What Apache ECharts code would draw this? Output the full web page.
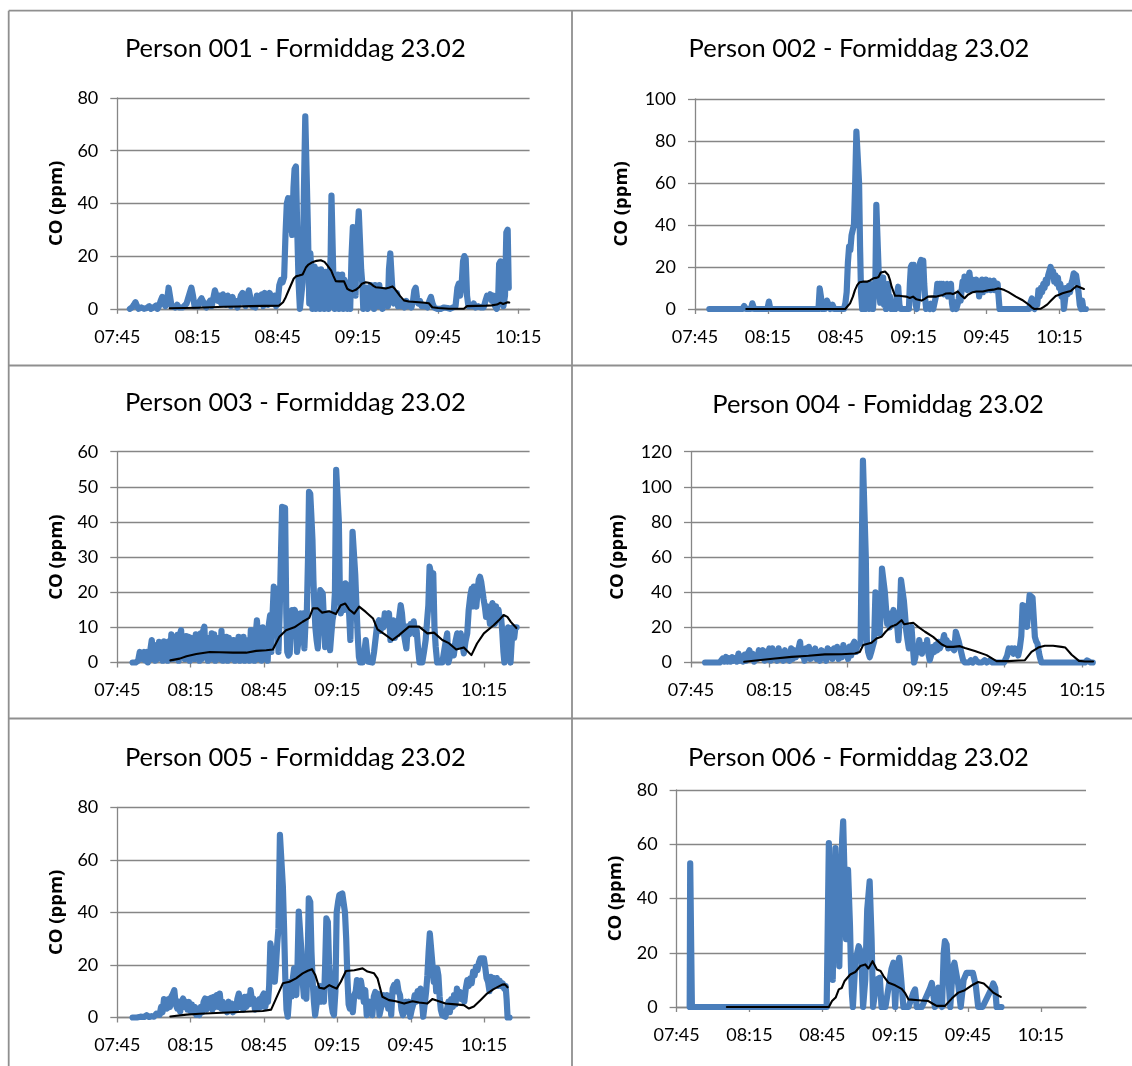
<!DOCTYPE html>
<html>
<head>
<meta charset="utf-8">
<title>CO-eksponering formiddag 23.02</title>
<script src="https://cdn.jsdelivr.net/npm/echarts@6/dist/echarts.min.js"></script>
<style>
  html, body { margin: 0; padding: 0; background: #ffffff; }
  #chart { width: 1132px; height: 1066px; }
</style>
</head>
<body>
<div id="chart"></div>
<script>
// Time is stored as minutes after 07:45; CO is in ppm.
const tickMinutes = [0, 30, 60, 90, 120, 150];
const tickLabels = ['07:45', '08:15', '08:45', '09:15', '09:45', '10:15'];

const titles = [
  'Person 001 - Formiddag 23.02',
  'Person 002 - Formiddag 23.02',
  'Person 003 - Formiddag 23.02',
  'Person 004 - Fomiddag 23.02',
  'Person 005 - Formiddag 23.02',
  'Person 006 - Formiddag 23.02'
];
const yAxisName = 'CO (ppm)';
const yAxisMax = [80, 100, 60, 120, 80, 80];
const yAxisStep = [20, 20, 10, 20, 20, 20];
const xAxisEnd = [154.2, 168.6, 168.6, 154.2, 168.6, 168.6];

// Person 001: measured CO and running average
const p001Co = [[4.7,0],[5.5,0.5],[6.2,1.5],[6.8,2.5],[7.4,1],[8,0],[9,0.5],[10,0],[11,0.3],[12,1],[12.6,0],[13.5,0.5],[14.5,1.2],[15,0],
[15.6,1],[16.2,3],[16.8,4.5],[17.4,2],[18,1],[18.6,3],[19.2,8],[19.8,8.5],[20.3,1],[21,1.5],[21.7,0.5],[22.4,1.5],[23.1,0.5],[23.8,1],[24.5,0.5],[25.2,1],[25.9,2],[26.5,4],[27.1,6],[27.7,8],[28.3,5],[28.9,1],[29.5,2],[30.2,1],[30.9,3],[31.5,4],[32.1,4.5],[32.7,1.5],[33.3,0.5],[34,2],[34.7,3],[35.3,1],[35.9,4],[36.5,7],[37.1,6.5],[37.7,3],[38.3,5],[38.9,2],[39.5,5.5],[40.1,4],[40.7,1.5],[41.3,5],[41.9,4],[42.5,1],[43.1,4.5],[43.7,2],[44.3,3],[44.9,0.5],[45.5,2],[46.2,5],[46.8,6],[47.4,3],[48,1],[48.6,5],[49.2,7],[49.8,6.5],[50.4,1],[51,1.5],[51.6,0.5],[52.2,5],[52.8,5.5],[53.4,2],[54,5.5],[54.6,1],[55.2,6],[55.8,5],[56.4,1.5],[57,6],[57.6,5.5],[58.2,2],[58.8,5],[59.4,1],[60,2.5],[60.6,9],[61.2,11],[61.8,10],[62.4,12],
[62.9,28],[63.4,40],[63.9,42],[64.4,30],[64.9,42],[65.4,28],[65.9,46],[66.3,53],[66.8,54],[67.3,30],[67.8,10],[68.3,0],[68.8,0],[69.3,10],[69.8,45],[70.3,73],[70.8,73],[71.3,30],[71.8,2],
[72.2,21],[72.6,14],[73,0],[73.4,13],[73.8,16],[74.2,0],[74.6,15],[75,5],[75.4,14],[75.8,0],[76.2,15],[76.6,2],[77,13],[77.4,0],[77.8,14],[78.2,3],[78.6,13],[79,0],[79.4,12],[79.8,20],[80.1,43],[80.5,43],[80.9,8],[81.3,0],[81.7,13],[82.1,2],[82.5,13],[82.9,0],[83.3,12],[83.7,3],[84.1,13],[84.5,0],[84.9,11],[85.3,2],[85.7,10],[86.1,0],[86.6,5],[87.1,0],[87.6,20],[88.1,31],[88.6,31],[89.1,5],[89.5,25],[89.9,30],[90.3,37],[90.8,37],[91.2,15],[91.6,10],[92,0],[92.4,6],[92.8,2],[93.2,8],[93.6,0],[94,7],[94.4,1],[94.8,9],[95.2,2],[95.6,8],[96,0],[96.4,9],[96.8,3],[97.2,8],[97.6,1],[98,9],[98.4,3],[98.8,7],[99.2,0],[99.6,5],[100,7],[100.4,2],[100.8,5],[101.2,1],[101.6,15],[102.1,21],[102.6,21],[103,5],[103.4,2],[103.8,6],[104.2,3],[104.6,6],[105,1],[105.5,3],[106,1],[106.7,2],[107.4,0.5],[108.1,3],[108.7,1],[109.4,2],[110,0.5],[110.6,3],[111.1,7],[111.6,8],[112.1,4],[112.6,2],[113.2,3],[113.8,1],[114.5,0.5],[115.2,1],[116,0.5],[116.7,3],[117.3,4.5],[117.9,2],[118.5,0.5],[119.5,0],[121,0],[122.2,0.5],[122.8,1],[123.5,0.3],[124.5,0],[125.5,0.5],[126.5,1],[127.2,8],[127.7,9.5],[128.2,5],[128.7,8],[129.3,18],[129.8,20],[130.3,19],[130.8,5],[131.3,1],[131.9,0.5],[132.6,1],[133.3,2],[134,0.5],[135,1],[136,0.5],[137,0.5],[137.7,3],[138.3,5],[138.9,4],[139.5,5.5],[140.1,3],[140.7,5],[141.3,1],[141.9,0],[142.4,2],[142.8,17],[143.3,18],[143.8,5],[144.4,1],[145,5],[145.5,29],[146,30],[146.4,8]];
const p001Avg = [[19.6,0.2],[25,0.3],[30,0.4],[35,0.6],[40,0.8],[45,0.9],[50,1],[55,1.1],[60.5,1.2],[62,2.5],[63,4.4],[64.5,8],[66,11.5],[66.8,12.3],[68,12.6],[69.3,13],[70,14.5],[70.6,15.8],[71.5,16.8],[73,17.7],[74.5,18.2],[76.1,18.4],[77.5,17.8],[78.5,16.6],[80,14.5],[80.8,12.5],[81.7,10.5],[83,10.4],[84.8,10.4],[86,7.6],[87,7],[88,6.7],[89.2,7.2],[90.4,8.2],[91.5,9.5],[92.9,10.1],[94,9.9],[94.8,9.5],[95.8,8.7],[96.6,8.2],[98.5,8],[100.4,7.7],[101.5,8],[102.9,8.5],[103.8,7.6],[104.7,6.3],[105.8,4.8],[107.2,3.2],[109,2.8],[112.8,2.5],[115,2.3],[116.5,2.1],[117.8,0.6],[120,0.3],[124,0],[129.6,0],[130.8,1],[134,1.1],[138,1.2],[140,1.3],[142,1.6],[143.3,2.3],[144.3,1.8],[145,1.4],[146,2.5],[146.6,2.4]];

// Person 002
const p002Co = [[5.9,0],[19.5,0],[20.2,1.4],[21,0],[23,0],[23.6,2.7],[24.3,0],[29.8,0],[30.4,3.5],[31,0],[50.8,0],[51.3,9.8],[51.8,6],[52.3,0],[53.5,0],[54.3,4],[55,4.6],[55.7,0],[56.6,2],[57.3,0],[61.3,0],[61.9,3],[62.4,8],[62.9,22],[63.4,29.7],[63.9,28],[64.4,35],[64.9,37.6],[65.4,40],[65.9,60],[66.4,84.4],[67,84.4],[67.5,60],[67.9,30],[68.3,8],[68.8,0],[69.2,12],[69.6,5],[70,0],[70.4,11],[70.8,2],[71.2,12],[71.6,0],[72,12],[72.4,4],[72.8,11],[73.2,0],[73.7,8],[74.2,12],[74.6,49.5],[75.3,49],[75.8,10],[76.2,3],[76.6,15],[77,8],[77.4,15],[77.8,2],[78.2,11],[78.6,0],[79,9],[79.4,12],[79.8,2],[80.2,6],[80.7,0],[82.5,0],[83,6],[83.6,10.6],[84.1,2],[84.6,0],[88,0],[88.4,12],[88.8,20],[89.2,21],[89.6,13],[90,21],[90.4,8],[90.8,2],[91.2,0],[91.7,5],[92.2,15],[92.6,22],[93,23.3],[93.5,22],[93.9,23],[94.3,12],[94.7,5],[95.1,0],[95.6,0],[96.1,1],[96.6,0],[97,2.5],[97.5,1],[98,0],[98.8,0],[99.3,7],[99.7,12],[100.1,9],[100.5,12],[100.9,8],[101.3,12],[101.7,9],[102.1,12],[102.5,7],[102.9,11],[103.3,9],[103.7,12],[104.1,6],[104.5,11],[104.9,8],[105.3,12],[105.7,3],[106.1,0],[106.6,0],[107.1,3],[107.5,0],[108.1,2.5],[108.5,5],[108.9,8],[109.3,4],[109.7,9],[110.1,13],[110.5,10],[110.9,15.4],[111.3,12],[111.7,14],[112.1,9],[112.5,15],[112.9,17.3],[113.3,13],[113.7,9],[114.1,14],[114.5,10],[114.9,13],[115.3,9],[115.7,14],[116.1,11],[116.5,13],[116.9,6],[117.3,12],[117.7,10],[118.1,14],[118.5,8],[118.9,13],[119.3,10],[119.7,14],[120.1,9],[120.5,13],[120.9,11],[121.3,13.5],[121.7,9],[122.1,13],[122.5,11],[122.9,13.5],[123.3,9],[123.7,12],[124.1,10],[124.5,12],[124.9,6],[125.3,0],[130,0],[137.5,0],[138,3],[138.6,5],[139.2,1],[139.7,0],[140.3,4],[140.8,2],[141.3,9],[141.8,6],[142.3,10],[142.8,8],[143.3,12],[143.8,10],[144.3,14],[144.8,12],[145.3,16],[145.8,18],[146.3,20],[146.8,17],[147.3,18],[147.8,13],[148.3,16],[148.8,12],[149.3,15],[149.8,10],[150.3,12],[150.8,6],[151.3,10],[151.8,0],[152.3,5],[152.8,10],[153.3,7],[153.8,11],[154.3,8],[154.8,12],[155.3,14],[155.8,17],[156.3,17.7],[156.8,16],[157.3,12],[157.8,8],[158.3,2],[158.8,0],[159.3,4],[159.8,0],[160.8,0]];
const p002Avg = [[21.1,0],[30,0],[40,0],[50,0],[61.8,0],[62.5,0.8],[63.8,2.7],[65,6],[65.8,9],[66.8,11.5],[67.7,12.7],[69,13],[70.7,13],[72,13.6],[73.4,14.6],[74.5,14.8],[75.5,15.2],[76.4,17.3],[77.2,17.8],[78.2,17.8],[79,17],[79.5,16.2],[80.3,13.5],[80.9,10.6],[82.3,6.3],[84,6.3],[85.5,6.1],[87,5.9],[88.4,5.2],[89.7,5.9],[90.5,5.4],[91.1,4.6],[93.2,4],[94.5,4.8],[95.9,5.9],[97.5,6],[99.3,5.9],[102,6.7],[103.3,7.4],[104.1,7.8],[105,7.5],[106.1,7.1],[107,7.6],[108.2,8.3],[109.5,6.5],[110.9,5.1],[112.3,6.8],[113,7.3],[114.3,8],[115.7,8.3],[118.4,8.3],[121.1,9],[122.8,9.2],[124.6,9.8],[126,9.5],[127.3,9],[129,8],[130.5,7],[132,5.9],[134.6,4.3],[137.5,1.9],[138.5,0.8],[139.6,0],[142.3,0.2],[143.5,1],[145,2.2],[146.5,4],[148.4,6.2],[149.8,6.8],[151.2,7.5],[153,8.1],[154.6,8.6],[156,10],[157,10.9],[158,10.5],[159,10],[160,9.5]];

// Person 003
const p003Co = [[6.25,0],[7.5,0],[8.5,0.5],[9.2,3],[9.8,3.3],[10.4,1],[11,3],[11.5,0.5],[12,3],[12.5,0],[13,1],[13.6,4],[14.1,6.4],[14.6,1],[15.1,5],[15.6,0.5],[16.1,4],[16.6,1],[17.1,5.9],[17.6,2],[18.1,5],[18.6,0.5],[19.1,6],[19.6,2],[20.1,5.4],[20.6,0.5],[21.1,6],[21.6,1],[22.1,8],[22.6,8.3],[23.1,1],[23.6,7],[24.1,2],[24.6,7.9],[25.1,0.5],[25.6,8],[26.1,9.2],[26.6,2],[27.1,7],[27.6,1],[28.1,7.5],[28.6,2],[29.1,7.3],[29.6,0.5],[30.1,7],[30.6,2],[31.1,6.9],[31.6,1],[32.1,8],[32.6,2],[33.1,7.3],[33.6,0.5],[34.1,8.3],[34.6,1],[35.1,9],[35.6,10.2],[36.1,2],[36.6,7],[37.1,0.5],[37.6,6.4],[38.1,2],[38.6,8.3],[39.1,1],[39.6,8],[40.1,0.5],[40.6,6.4],[41.1,2],[41.6,7],[42.1,1],[42.6,9],[43.1,0.5],[43.6,6.4],[44.1,2],[44.6,7.3],[45.1,0.5],[45.6,7],[46.1,1],[46.6,6.4],[47.1,2],[47.6,6.4],[48.1,0.5],[48.6,5.4],[49.1,1],[49.6,7.3],[50.1,0.5],[50.6,6.4],[51.1,1],[51.6,7.3],[52.1,0.5],[52.6,6.4],[53.1,2],[53.6,6.4],[54.1,0.5],[54.6,9.2],[55.1,1],[55.6,4.4],[56.1,0.5],[56.6,8],[57.1,12],[57.5,12],[58,1],[58.5,2.6],[59,0.5],[59.5,10],[60,10.3],[60.5,1],[61,4.5],[61.5,0.5],[62,11],[62.5,13.5],[63,3],[63.5,14],[64,21.6],[64.5,20],[65,21],[65.4,14],[65.9,3],[66.4,14.1],[66.9,30],[67.4,44.3],[68,44.3],[68.6,44],[69.1,14.1],[69.5,3],[70,2],[70.5,2.6],[71,10],[71.5,14.9],[72,12],[72.5,15],[73,14],[73.5,3],[74,2.6],[74.5,8],[75,14],[75.5,12],[76,14],[76.5,4],[77,12],[77.5,14],[78,30],[78.4,48.6],[78.9,48],[79.3,42.5],[79.8,35],[80.2,23.5],[80.6,15.9],[81,10],[81.5,6.4],[82,4],[82.5,12],[83,20.6],[83.5,20.6],[84,19.7],[84.5,12],[85,4.4],[85.5,8],[86,14],[86.5,6],[87,3.5],[87.5,8],[88,12],[88.5,14],[89,20],[89.5,54.8],[90.2,54.3],[90.6,40],[91,20.6],[91.4,14],[91.8,16],[92.3,20.6],[92.8,15],[93.3,22.5],[93.8,22.5],[94.3,21.6],[94.8,14],[95.3,6.4],[95.8,20],[96.2,37.2],[96.8,36.7],[97.3,25],[97.8,15.9],[98.3,8],[98.8,1.6],[99.3,0],[100.3,0],[101,3],[101.6,6.4],[102.2,2],[102.7,0.2],[104.3,0],[105,3],[105.7,7.3],[106.3,11],[107,12],[107.6,9],[108.2,12],[108.8,10],[109.4,14],[110,11],[110.6,13],[111.1,14],[111.7,6.4],[112.3,8],[112.9,12],[113.5,7],[114.1,10.3],[114.7,8],[115.3,13],[115.9,16.3],[116.4,14],[117,9],[117.6,6.4],[118.2,4],[118.8,10.3],[119.4,8],[120,11],[120.6,9],[121.2,11.7],[121.8,8],[122.4,9.2],[123,4],[123.6,0],[124.7,0],[125.4,3],[126.1,6.4],[126.7,12],[127.2,16.3],[127.7,27.3],[128.2,27],[128.7,24],[129.2,25.4],[129.7,10],[130.2,4.5],[130.8,0],[132.9,0],[133.6,3],[134.3,6],[134.9,8.3],[135.4,0],[136.2,0],[137,4.5],[137.6,2],[138.3,6],[139,8.3],[139.6,5],[140.4,8.3],[141,6],[141.7,2.6],[142.4,6],[143.1,8.3],[143.7,15],[144.4,19.2],[144.9,21],[145.4,16],[145.8,21.6],[146.3,17],[146.8,15.9],[147.3,20],[147.8,23.5],[148.3,24.4],[148.8,23],[149.3,22.5],[149.8,18],[150.3,15.9],[150.8,13],[151.3,16],[151.9,14],[152.4,11],[152.9,15],[153.4,16.9],[153.9,14],[154.4,11],[154.9,16],[155.4,13],[155.9,15],[156.4,12],[156.9,13],[157.4,9],[157.9,3],[158.3,0],[158.8,5],[159.3,8],[159.8,10],[160.3,2],[160.8,0],[161.3,6],[161.8,10],[162.3,7],[162.8,10],[163.3,10]];
const p003Avg = [[21.7,0.6],[25.5,1.1],[28.3,1.8],[32.3,2.4],[37.8,3],[41.8,2.9],[47.3,2.8],[52.7,2.8],[56.8,3.3],[60.9,3.5],[63.6,3.7],[66.3,7.3],[69,9.2],[72.4,10],[75.8,11.6],[78.5,12.7],[80,15.4],[82,15.4],[83.7,14.2],[86.7,14.6],[89.4,13.8],[91.4,16.3],[93.2,16.8],[94.8,15.1],[96.9,13.9],[98.9,15.9],[101.6,14.4],[104.6,12.5],[106.4,9.4],[109.8,7.8],[112.5,6.4],[115.2,7.8],[119.3,10.2],[123.4,10.2],[126.8,8.3],[129.5,8.5],[132.9,6.4],[135.6,5.5],[138.6,3.7],[141.7,4.3],[144.8,2.1],[147.1,5.4],[149.9,8.3],[153.9,10.6],[156,12],[158,13.5],[159.5,13],[161,11.5],[163.2,9.8]];

// Person 004
const p004Co = [[5.4,0],[11,0],[11.6,1],[12.2,2.3],[12.8,0.5],[13.4,3.2],[14,0.5],[14.6,2.5],[15.2,0.5],[15.8,3],[16.4,1],[17,2.5],[17.6,0.5],[18.2,5.1],[18.8,1],[19.4,3.6],[20,0.5],[20.6,4.5],[21.2,1],[21.8,5.1],[22.4,7],[23,2],[23.6,5],[24.2,0.5],[24.8,4],[25.4,2],[26,7],[26.5,8],[27,3],[27.6,7],[28.2,1],[28.8,6],[29.4,2],[30,8],[30.6,1],[31.2,8],[31.8,3],[32.4,6],[33,1],[33.6,8],[34.2,2],[34.8,6],[35.4,1],[36,7],[36.6,2],[37.2,5.1],[37.8,1],[38.4,8],[39,2],[39.6,7],[40.2,3],[40.8,5],[41.4,9],[41.8,11.8],[42.3,4],[42.9,6],[43.5,1],[44.1,8],[44.7,3],[45.2,8.9],[45.8,2],[46.4,7],[47,3],[47.6,8],[48.2,2],[48.8,6],[49.4,1],[50,7],[50.6,3],[51.2,6],[51.8,1],[52.4,8],[53,3],[53.6,7],[54.2,2],[54.8,8],[55.4,4],[56,8.9],[56.6,2],[57.2,7],[57.8,3],[58.4,9.9],[59,4],[59.6,8],[60.2,2],[60.8,9],[61.4,4],[62,10],[62.6,11.8],[63.2,6],[63.8,10],[64.4,9],[65,11],[65.6,80],[65.9,115],[66.6,115],[67,60],[67.4,12.7],[67.9,6],[68.5,3],[69.1,6],[69.6,8.9],[70.2,12],[70.7,40],[71.3,39],[71.8,25],[72.3,16.5],[72.8,30],[73.2,53.5],[73.8,52.6],[74.3,40],[74.7,31.7],[75.2,22],[75.7,28],[76.2,20],[76.7,23.3],[77.2,26],[77.6,29.9],[78.1,25],[78.6,28],[79.1,20],[79.5,12.7],[80,25],[80.5,47],[81.1,47],[81.6,35],[82,28],[82.5,18],[83,12.7],[83.5,8],[84,15],[84.5,20.3],[85,10],[85.5,0],[86,3],[86.5,8.9],[87,6],[87.5,12.7],[88,8],[88.5,5],[89,8],[89.5,10],[90,7],[90.5,12.7],[91,5],[91.5,1.3],[92,4],[92.6,8.9],[93.2,6],[93.8,10],[94.4,7],[94.9,11.8],[95.4,8],[96,7],[96.5,12],[97,15.6],[97.5,11],[98,12.7],[98.6,8],[99.2,11],[99.8,8.9],[100.4,10],[100.9,7],[101.5,17.5],[102.1,17],[102.6,12],[103.1,8.9],[103.7,5],[104.3,1.3],[105,0],[106.5,0],[107.3,1.3],[108,0],[109,2],[109.6,0.5],[110.5,0],[111.5,0],[112.5,1.3],[113.3,0],[114.5,1],[115.5,0],[120,0],[120.5,0.4],[121.2,4],[121.8,8],[122.4,6],[123,8],[123.6,5],[124.2,8],[124.8,7],[125.4,4],[126,8],[126.6,15],[127.1,32.7],[127.7,32],[128.2,31.7],[128.8,20.3],[129.3,30],[129.8,38.4],[130.4,38.4],[130.9,37],[131.4,25],[131.8,14.6],[132.3,12],[132.8,10.8],[133.3,6],[133.7,3.2],[134.3,0],[143,0],[151,0],[151.8,1.2],[152.5,0.8],[153.2,0],[154,0]];
const p004Avg = [[20.4,0.4],[25.8,1.3],[32.2,2.3],[38.6,3.2],[45,3.8],[51.3,4.6],[57.7,4.7],[62.8,5.1],[64.7,6],[66,9.9],[69.2,11.2],[71.1,13.7],[73,14.6],[74.6,17.5],[76.6,20.3],[78.8,21.6],[80.7,24.1],[81.7,21.8],[83.3,22.2],[85.2,22.6],[87.1,20.3],[89.7,17.5],[92.8,14.6],[96,10.4],[98,8.9],[100.5,8.9],[103.1,9.3],[105,8.2],[108.8,6.5],[113.3,4.2],[117.1,0.8],[121.6,0.8],[125.4,1.1],[128,1.3],[130.5,6],[133.1,8.5],[135.6,9.5],[138.8,9.5],[142,8.9],[143.5,8.5],[145.9,4.4],[148.7,0.9],[151,0.6],[154.1,0.6]];

// Person 005
const p005Co = [[6.25,0],[8,0],[9.5,0.3],[11,0.2],[12,0.9],[13,0.2],[14,0.5],[15,0.3],[16,1.5],[16.7,2.2],[17.3,1],[17.9,4],[18.5,2],[19.1,7],[19.7,5],[20.3,3.4],[20.9,7],[21.5,4],[22.1,7.9],[22.7,9],[23.3,10.4],[23.9,5],[24.5,3.4],[25.1,6],[25.7,2.2],[26.3,6],[26.9,7.2],[27.5,4],[28.1,6],[28.7,3],[29.3,5.9],[29.9,2.5],[30.5,4.9],[31.1,2],[31.7,4],[32.3,1],[32.9,3.4],[33.5,0.9],[34.1,4],[34.7,2],[35.3,6],[35.9,7.2],[36.5,3],[37.1,7],[37.7,4],[38.3,7.5],[38.9,3],[39.5,7.9],[40.1,4],[40.7,8.5],[41.3,4],[41.9,9.1],[42.5,3.4],[43.1,6],[43.7,3],[44.3,5.3],[44.9,2],[45.5,6],[46.1,3],[46.7,5.3],[47.3,2],[47.9,5],[48.5,2.8],[49.1,7],[49.7,9.1],[50.3,4],[50.9,7.2],[51.5,3],[52.1,7.9],[52.7,4],[53.3,8],[53.9,5],[54.5,10.4],[55.1,6],[55.7,7.2],[56.3,3],[56.9,6],[57.5,3.4],[58.1,7],[58.7,4],[59.3,8],[59.9,9.1],[60.5,4],[61.1,7],[61.6,5.9],[62.1,12],[62.6,28.2],[63.3,27.6],[63.9,20],[64.4,13.6],[64.9,20],[65.4,28],[65.9,34],[66.5,69.5],[67.2,69],[67.7,50],[68.2,34],[68.7,15],[69.2,3],[69.7,0.3],[70.3,8],[70.8,13.6],[71.3,8],[71.8,15],[72.3,18.7],[72.8,12],[73.2,8.5],[73.7,20],[74.2,40.3],[74.8,39.6],[75.3,25],[75.8,13.6],[76.3,8],[76.8,12],[77.3,7.2],[77.8,20],[78.3,45.3],[78.9,44],[79.4,25],[79.9,13.6],[80.4,6],[80.9,0.9],[81.5,5],[82,11],[82.5,6],[83,12],[83.5,6],[84,10],[84.5,6],[85,20],[85.5,37.7],[86.1,36.4],[86.6,20],[87.1,13.6],[87.6,5],[88.1,2],[88.6,0.9],[89.2,10],[89.7,40],[90.3,44],[90.8,46.6],[91.4,47.2],[92,47.2],[92.6,46.6],[93.1,40],[93.6,30],[94.1,15],[94.6,5],[95.1,3.4],[95.7,8],[96.3,2],[96.9,8.5],[97.5,10],[98,14.2],[98.6,13],[99.1,8],[99.6,14],[100.2,10.4],[100.8,6],[101.4,10.4],[102,0.9],[102.6,2],[103.2,6],[103.7,3.4],[104.3,0.9],[104.9,8],[105.5,9.7],[106.1,6],[106.7,9],[107.2,0.9],[107.8,1],[108.4,6],[109,8.5],[109.6,5],[110.2,8.5],[110.8,3.4],[111.4,8],[112,1],[112.6,11],[113.2,12.4],[113.8,10],[114.4,13.6],[115,10],[115.6,8.5],[116.2,3],[116.8,0.9],[117.4,2],[118,6],[118.6,3],[119.2,6],[119.8,0.3],[120.4,3],[121,5],[121.6,8.5],[122.2,6],[122.8,10],[123.4,8],[124,11],[124.6,6],[125.1,0.3],[125.7,5],[126.3,10],[126.8,16],[127.3,25],[127.8,32],[128.4,31.4],[128.9,20],[129.4,13.6],[129.9,18],[130.4,10],[130.8,18.7],[131.3,16],[131.8,8],[132.3,3],[132.9,0.9],[133.5,0.3],[134.2,0.3],[134.8,3],[135.4,6],[136,2],[136.6,7],[137.2,4],[137.7,8.5],[138.3,5],[138.9,11],[139.5,8],[140.1,9.7],[140.7,7],[141.3,8.5],[141.9,6],[142.5,11],[143.1,14.2],[143.7,12],[144.3,14.9],[144.9,13],[145.5,17.5],[146.1,16],[146.7,19.4],[147.3,18],[147.9,21],[148.5,22.5],[149.1,22],[149.9,22.5],[150.5,18.7],[151,15],[151.6,13.6],[152.2,10],[152.8,15.5],[153.4,12],[154,15],[154.6,13],[155.2,15],[155.8,12],[156.4,14],[157,12],[157.6,13],[158.2,11],[158.8,12],[159.2,7],[159.6,0],[160.4,0]];
const p005Avg = [[21.7,0.4],[28.3,1.1],[33.7,1.4],[40.5,1.7],[47.3,2],[54.1,2.3],[59.5,2.5],[62.9,3],[64.9,7.2],[67.7,13],[70.4,13.6],[73.1,14.9],[75.8,16.8],[77.9,17.8],[79.6,18.4],[81,16.1],[82.6,11.3],[84.6,11],[86.7,12.3],[88,11.7],[89.7,11],[91.4,13.6],[93.5,17.7],[96.9,18],[100.3,18.7],[102.3,17.5],[105,16.8],[106.4,14.9],[108.4,7.9],[111.1,6.6],[113.9,6.2],[117.3,5.3],[120.7,6.2],[123.4,5.7],[126.8,5.3],[128.8,7],[131.5,6.2],[134.2,5.3],[138.3,5],[141.7,4.7],[143.8,3.4],[145.8,4.2],[148.5,6.6],[151.2,9.1],[153.9,10.8],[157.4,12.5],[158.5,12.6],[159.6,11.5]];

// Person 006
const p006Co = [[5.4,0],[5.6,53],[6.0,53],[6.3,0],[20,0],[40,0],[61.8,0],[62.7,60.4],[63.1,60],[63.5,20],[63.9,35],[64.3,10],[64.7,30],[65.1,45],[65.4,58.6],[65.8,58],[66.2,20],[66.6,40],[67,15],[67.4,35],[67.8,50],[68.2,62],[68.6,68.4],[69,68],[69.4,40],[69.8,25],[70.2,45],[70.6,50.6],[71,50],[71.4,30],[71.8,15],[72.2,5],[72.6,0],[73.6,16.3],[74.4,20],[75,22.4],[75.5,22],[76,20],[76.8,0],[77.7,10],[78.5,35.9],[78.9,36],[79.5,46.3],[79.9,46],[80.3,25],[80.9,0],[82.5,10.2],[83.7,10.8],[84.4,0],[86,0],[88.5,14],[89.3,16.3],[90,0],[90.8,14],[91.7,18.1],[92.5,10],[93.4,0],[95.5,0],[97.4,5],[98.2,6.5],[98.9,0],[101,0],[104.4,7],[105.1,8.9],[106.4,0],[107.4,6],[107.8,7.1],[109.3,0],[110,20],[110.5,24.3],[111.2,23],[112,10],[112.7,0],[113.7,14],[114.4,16.3],[115.2,16],[116,8.2],[117,0],[118.2,10],[119.4,12.6],[120.8,12.6],[122,12.6],[123.2,8],[124.2,0],[126,0],[129.8,7],[130.4,8.7],[131.2,7],[131.8,0],[133.8,0]];
const p006Avg = [[20.7,0],[30,0],[40,0],[50,0],[62.7,0],[64,2.2],[65.5,3.5],[66.8,6.5],[68,7],[69.2,9.6],[71.5,12],[73.6,12.9],[75.7,15.1],[77.7,15.7],[79,14.2],[80.7,16.9],[82.5,13.8],[84,13.3],[85.2,11.4],[87.3,8.9],[90,8],[92.7,6.7],[94.2,5],[95.5,2.8],[99.6,2.5],[103.7,2.2],[105.5,1.2],[107.1,0.4],[110.5,0.4],[113.3,3.1],[116,5.3],[118.7,6.2],[122.2,8.3],[124.2,9.2],[126.5,8.7],[128.5,7],[130.4,5.3],[133.5,3.7]];

const coSeries = [p001Co, p002Co, p003Co, p004Co, p005Co, p006Co];
const avgSeries = [p001Avg, p002Avg, p003Avg, p004Avg, p005Avg, p006Avg];

// ---- layout: pixel box of each plot area ----
const plotBoxes = [
  { left: 117.3, top: 98.0,  width: 412.3, height: 210.8 },
  { left: 695.0, top: 98.8,  width: 409.8, height: 210.2 },
  { left: 117.3, top: 451.7, width: 412.3, height: 210.8 },
  { left: 691.0, top: 451.7, width: 402.3, height: 210.8 },
  { left: 117.3, top: 807.3, width: 412.3, height: 210.2 },
  { left: 676.6, top: 790.0, width: 409.4, height: 217.0 }
];
const titlePos = [[295.3, 49], [859, 49], [295.3, 403], [878, 405], [295.3, 758], [858.5, 758]];
const nameX = [57, 622, 57, 618, 57, 616];

const FONT = 'Lato, "Open Sans", sans-serif';
const NAME_FONT = '"Open Sans", Lato, sans-serif';
const GRID = '#868686';
const BLUE = '#4a7ebb';
const FRAME = '#8f8f8f';

function clockLabel(v) {
  const i = tickMinutes.indexOf(Math.round(v));
  return i >= 0 ? tickLabels[i] : '';
}

const grids = [], xAxes = [], yAxes = [], series = [], graphics = [];

plotBoxes.forEach((b, i) => {
  grids.push({ left: b.left, top: b.top, width: b.width, height: b.height, containLabel: false });

  xAxes.push({
    type: 'value', gridIndex: i, min: 0, max: xAxisEnd[i], interval: 30,
    axisLine: { show: true, onZero: false, lineStyle: { color: GRID, width: 1.3 } },
    axisTick: { show: true, length: 5, customValues: tickMinutes, lineStyle: { color: GRID, width: 1.3 } },
    axisLabel: { customValues: tickMinutes, formatter: clockLabel, margin: 19,
                 fontFamily: FONT, fontSize: 18, color: '#000' },
    splitLine: { show: false }
  });

  yAxes.push({
    type: 'value', gridIndex: i, min: 0, max: yAxisMax[i], interval: yAxisStep[i],
    axisLine: { show: true, lineStyle: { color: GRID, width: 1.3 } },
    axisTick: { show: true, length: 7, lineStyle: { color: GRID, width: 1.3 } },
    axisLabel: { margin: 19, fontFamily: FONT, fontSize: 18, color: '#000' },
    splitLine: { show: true, lineStyle: { color: GRID, width: 1.3 } }
  });

  series.push({
    type: 'line', xAxisIndex: i, yAxisIndex: i, data: coSeries[i],
    showSymbol: false, clip: false, animation: false, z: 3,
    lineStyle: { color: BLUE, width: 6.2, cap: 'round', join: 'round' }
  });
  series.push({
    type: 'line', xAxisIndex: i, yAxisIndex: i, data: avgSeries[i],
    showSymbol: false, clip: false, animation: false, z: 4,
    lineStyle: { color: '#000', width: 2.1, cap: 'round', join: 'round' }
  });

  graphics.push({
    type: 'text', x: titlePos[i][0], y: titlePos[i][1], z: 10,
    style: { text: titles[i], fontFamily: FONT, fontSize: 25.5, fill: '#000',
             align: 'center', verticalAlign: 'middle' }
  });
  graphics.push({
    type: 'text', x: nameX[i], y: b.top + b.height / 2, rotation: Math.PI / 2, z: 10,
    style: { text: yAxisName, fontFamily: NAME_FONT, fontSize: 18.5, fontWeight: 'bold', fill: '#000',
             align: 'center', verticalAlign: 'middle' }
  });
});

// panel frames
const frameLines = [
  [8.7, 10.7, 1132, 10.7],
  [8.7, 10.7, 8.7, 1066],
  [572, 10.7, 572, 1066],
  [8.7, 365.5, 1132, 365.5],
  [8.7, 718.5, 1132, 718.5]
];
frameLines.forEach(l => {
  graphics.push({
    type: 'line', z: 1,
    shape: { x1: l[0], y1: l[1], x2: l[2], y2: l[3] },
    style: { stroke: FRAME, lineWidth: 1.8 }
  });
});

const chart = echarts.init(document.getElementById('chart'), null, { renderer: 'canvas' });
chart.setOption({
  backgroundColor: '#ffffff',
  animation: false,
  grid: grids,
  xAxis: xAxes,
  yAxis: yAxes,
  series: series,
  graphic: graphics
});
</script>
</body>
</html>
